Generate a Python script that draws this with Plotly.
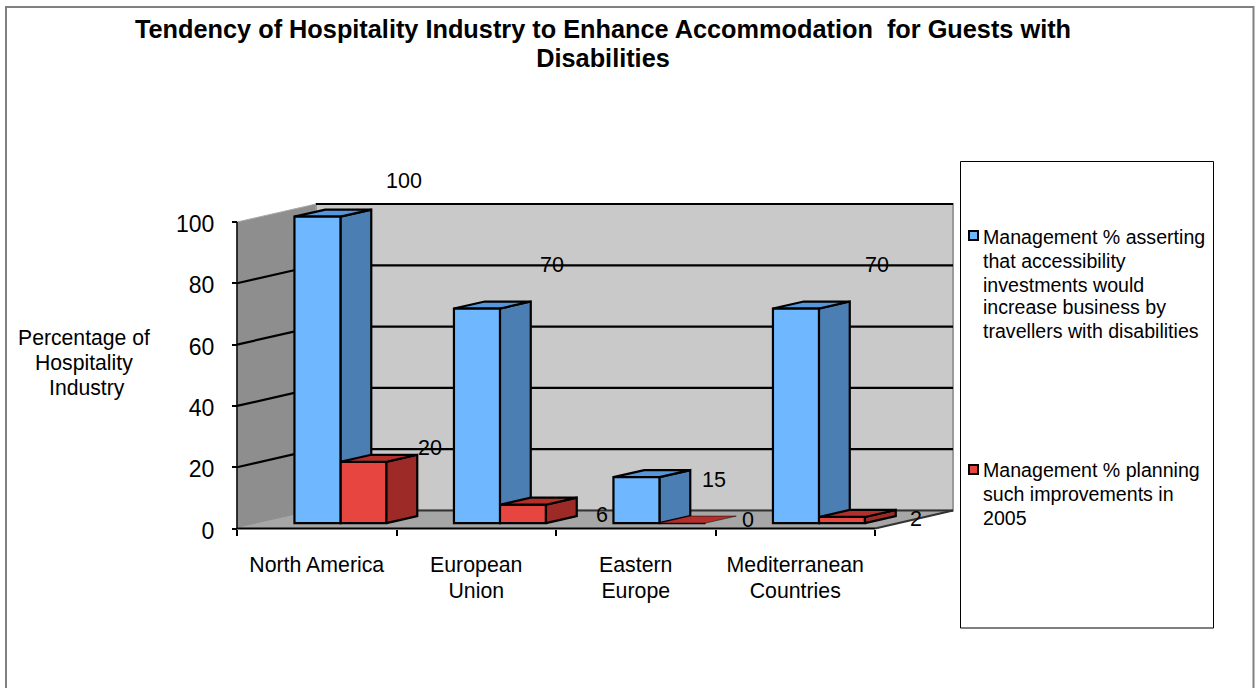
import plotly.graph_objects as go

# ---------- data ----------
categories = ["North America", "European<br>Union", "Eastern<br>Europe", "Mediterranean<br>Countries"]
series_names = ["Management % asserting that accessibility investments would increase business by travellers with disabilities",
                "Management % planning such improvements in 2005"]
asserting = [100, 70, 15, 70]
planning = [20, 6, 0, 2]
y_ticks = [0, 20, 40, 60, 80, 100]
title_text = "Tendency of Hospitality Industry to Enhance Accommodation  for Guests with<br>Disabilities"
y_title_lines = ["Percentage of", "Hospitality", "Industry"]
legend_lines_a = ["Management % asserting", "that accessibility", "investments would", "increase business by", "travellers with disabilities"]
legend_lines_b = ["Management % planning", "such improvements in", "2005"]

# ---------- geometry / style ----------
W, H = 1255, 688
FONT = "Liberation Sans"
px_left, px_right, px_top, px_zero, px_100, px_cat4 = 237, 953, 204, 528.5, 222, 875
PAD = 8   # spare room round the walls so that their edge lines are not cut
cat_px = (px_cat4 - px_left) / 4
val_px = (px_zero - px_100) / 100
depth_x = 79 / cat_px
depth_y = 18 / val_px
x_max = (px_right - px_left) / cat_px
y_max = (px_zero - px_top) / val_px
bar_w = 46 / cat_px
gap = (1 - 2 * bar_w) / 2
d0, d1 = 0.30, 0.69   # bar depth start / end as a fraction of the floor depth
BLUE = dict(front="#6FB7FF", side="#4B7EB2", top="#5697DC")
RED = dict(front="#E64540", side="#9E2A27", top="#B32F2C")
BACK, SIDE, FLOOR = "#C9C9C9", "#8E8E8E", "#A6A6A6"
LW = 2.2


def poly(xs, ys, fill, line="black", width=LW, axes=("x", "y")):
    return go.Scatter(x=list(xs) + [xs[0]], y=list(ys) + [ys[0]], mode="lines", fill="toself", fillcolor=fill,
                      line=dict(color=line, width=width), hoverinfo="skip", showlegend=False,
                      xaxis=axes[0], yaxis=axes[1], cliponaxis=False)


def seg(xs, ys, color="black", width=LW):
    return go.Scatter(x=xs, y=ys, mode="lines", line=dict(color=color, width=width), hoverinfo="skip",
                      showlegend=False, cliponaxis=False)


fig = go.Figure()
# walls
fig.add_trace(poly([0, depth_x, depth_x, 0], [0, depth_y, y_max, 100], SIDE, line="#A8A8A8", width=1))
fig.add_trace(poly([depth_x, x_max, x_max, depth_x], [depth_y, depth_y, y_max, y_max], BACK, line="#9A9A9A", width=2))
fig.add_trace(poly([0, 4, x_max, depth_x], [0, 0, depth_y, depth_y], FLOOR, line="#A6A6A6", width=1))
# gridlines
for v in y_ticks[1:-1]:
    fig.add_trace(seg([0, depth_x, x_max], [v, v + depth_y, v + depth_y]))
fig.add_trace(seg([depth_x, x_max], [y_max, y_max]))
fig.add_trace(seg([depth_x, x_max], [depth_y, depth_y], color="#333333"))
fig.add_trace(seg([4, x_max], [0, depth_y], color="#333333"))
fig.add_trace(seg([0, 4], [0, 0]))
fig.add_trace(seg([0, 0], [0, 100], width=1.5))


def side_top(x0, v, c, axes):
    dx0, dy0 = d0 * depth_x, d0 * depth_y
    dx1, dy1 = d1 * depth_x, d1 * depth_y
    xl, xr = x0 + dx0, x0 + dx0 + bar_w
    xb = x0 + dx1 + bar_w
    out = []
    if v > 0:
        out.append(poly([xr, xb, xb, xr], [dy0, dy1, dy1 + v, dy0 + v], c["side"], axes=axes))
    out.append(poly([xl, xr, xb, x0 + dx1], [dy0 + v, dy0 + v, dy1 + v, dy1 + v], c["top"],
                    width=LW if v > 0 else 0.5, axes=axes))
    return out


for i, v in enumerate(asserting):
    for t in side_top(i + gap, v, BLUE, ("x", "y")):
        fig.add_trace(t)

# front faces on an overlay axis, so that they sit above the blue sides
base = d0 * depth_y
shift = d0 * depth_x
clean = [c.replace("<br>", " ") for c in categories]
fig.add_trace(go.Bar(x=[i + gap + shift + bar_w * 1.5 for i in range(4)], y=planning, base=base, width=bar_w,
                     name=series_names[1], customdata=clean, marker=dict(color=RED["front"], line=dict(color="black", width=LW)),
                     xaxis="x2", yaxis="y2", showlegend=False))
fig.add_trace(go.Bar(x=[i + gap + shift + bar_w * 0.5 for i in range(4)], y=asserting, base=base, width=bar_w,
                     name=series_names[0], customdata=clean, marker=dict(color=BLUE["front"], line=dict(color="black", width=LW)),
                     xaxis="x2", yaxis="y2", showlegend=False))
for i, v in enumerate(planning):
    for t in side_top(i + gap + bar_w, v, RED, ("x2", "y2")):
        fig.add_trace(t)

# data labels, anchored to the bars (pixel shifts copy the hand-placed labels)
shift_a = [(87, 36), (75.5, 44), (78, -3), (81, 44)]
shift_b = [(67, 14), (79.5, -10), (66, 3.5), (74, -2.5)]
ann = []
for vals, off, sh in ((asserting, 0.5, shift_a), (planning, 1.5, shift_b)):
    for i, v in enumerate(vals):
        ann.append(dict(x=i + gap + shift + bar_w * off, y=v + base, xref="x", yref="y", text=str(v), showarrow=False,
                        xshift=sh[i][0], yshift=sh[i][1], font=dict(size=21.5, color="black", family=FONT)))


def line_note(text, px, py, anchor="left", size=19.6):
    return dict(x=px / W, y=1 - py / H, xref="paper", yref="paper", text=text, showarrow=False, xanchor=anchor,
                yanchor="middle", font=dict(size=size, color="black", family=FONT))


for t, px, py in zip(y_title_lines, (84, 83.5, 86.5), (338, 363, 388)):
    ann.append(line_note(t, px, py, "center", 21.2))
for t, py in zip(legend_lines_a, (237, 261, 285, 307, 331)):
    ann.append(line_note(t, 981, py))
for t, py in zip(legend_lines_b, (470, 494, 518)):
    ann.append(line_note(t, 981, py))


def rect(x0, y0, x1, y1, fill, line="black", width=1):
    return dict(type="rect", xref="paper", yref="paper", x0=x0 / W, x1=x1 / W, y0=1 - y0 / H, y1=1 - y1 / H,
                fillcolor=fill, line=dict(color=line, width=width))


shapes = [rect(960.5, 161.5, 1213.5, 628, "white"),
          rect(969, 231, 978, 240, BLUE["front"], width=2),
          rect(969, 465, 978, 474, RED["front"], width=2),
          dict(type="path", xref="paper", yref="paper",
               path=f"M {6/W} 0 L {6/W} {1-7/H} L {1253.5/W} {1-7/H} L {1253.5/W} 0",
               line=dict(color="#808080", width=2))]


def sized(text, size, bold=False):
    # outer font size sets the line spacing, the span sets the glyph size
    body = "<br>".join(f'<span style="font-size:{size}px">{part}</span>' for part in text.split("<br>"))
    return f"<b>{body}</b>" if bold else body


dom_x = [(px_left - PAD) / W, (px_right + PAD) / W]
dom_y = [1 - (px_zero + PAD) / H, 1 - (px_top - PAD) / H]
rng_x = [-PAD / cat_px, x_max + PAD / cat_px]
rng_y = [-PAD / val_px, y_max + PAD / val_px]
fig.update_layout(
    width=W, height=H, margin=dict(l=0, r=0, t=0, b=0, autoexpand=False), paper_bgcolor="white", plot_bgcolor="rgba(0,0,0,0)",
    barmode="overlay", showlegend=False, font=dict(family=FONT, color="black"),
    title=dict(text=sized(title_text, 25.3, bold=True), x=603 / W, xanchor="center", xref="container",
               y=1 - 38 / H, yanchor="middle", yref="container", font=dict(size=22.3, color="black", family=FONT)),
    annotations=ann, shapes=shapes,
    xaxis=dict(domain=dom_x, range=rng_x, anchor="free", position=1 - px_zero / H, showgrid=False, zeroline=False, showline=False,
               tickmode="array", tickvals=[i + 0.5 for i in range(4)], ticktext=[sized(c, 21.3) for c in categories],
               ticks="", ticklen=0, ticklabelstandoff=22, tickfont=dict(size=20, color="black", family=FONT),
               minor=dict(tickmode="linear", tick0=0, dtick=1, ticks="outside", ticklen=6, tickwidth=1.5, tickcolor="black")),
    yaxis=dict(domain=dom_y, range=rng_y, anchor="free", position=px_left / W, showgrid=False, zeroline=False, showline=False,
               tickmode="array", tickvals=y_ticks, ticks="outside", ticklen=5, tickwidth=1.5, tickcolor="black",
               ticklabelstandoff=13, ticklabelshift=2, tickfont=dict(size=23, color="black", family=FONT)),
    xaxis2=dict(domain=dom_x, range=rng_x, overlaying="x", visible=False),
    yaxis2=dict(domain=dom_y, range=rng_y, overlaying="y", visible=False),
)

fig.write_html("out.html", config=dict(displayModeBar=False),
               post_script="document.body.style.margin='0';document.documentElement.style.overflow='hidden';")
